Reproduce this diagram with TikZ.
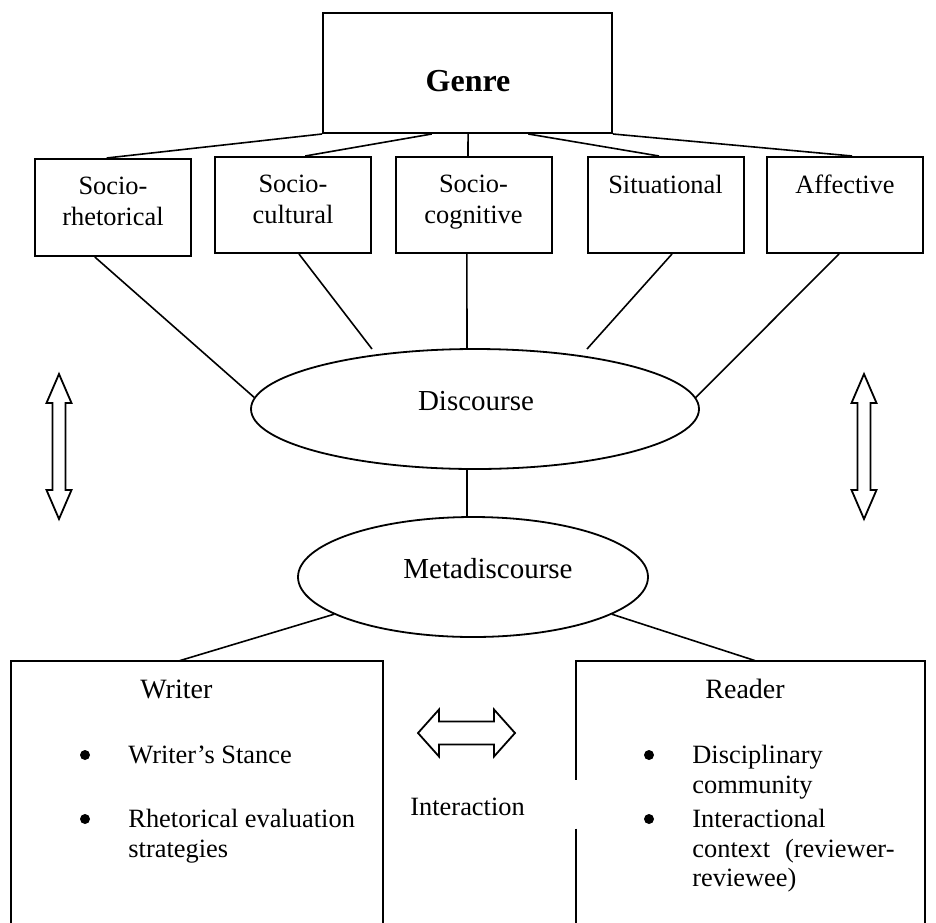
\documentclass[tikz,border=0pt]{standalone}
\usepackage{fontspec}
\setmainfont{Liberation Serif}
\usetikzlibrary{calc,shapes.geometric}
\begin{document}
\begin{tikzpicture}[x=0.5pt,y=-0.5pt,
  box/.style={draw, rectangle, line width=1pt, inner sep=0pt, minimum width=78pt, minimum height=48pt},
  lbl/.style={inner sep=0pt, font=\fontsize{13.2}{15.5}\selectfont, align=center},
  item/.style={inner sep=0pt, font=\fontsize{13.2}{15.5}\selectfont, anchor=base west},
  dot/.style={circle, fill=black, inner sep=0pt, minimum size=5pt},
  head/.style={inner sep=0pt, font=\fontsize{14}{16}\selectfont, anchor=base west},
  oval/.style={draw, ellipse, line width=0.9pt, inner sep=0pt},
  ovaltext/.style={inner sep=0pt, font=\fontsize{14.5}{17}\selectfont, anchor=base},
  conn/.style={line width=0.8pt},
  frame/.style={line width=1pt},
  fatarrow/.style={draw, line width=0.9pt, fill=white},
  vdarrow/.pic={\draw[fatarrow] (0,-72.5) -- (12.5,-43.5) -- (6.5,-43.5) -- (6.5,43.5) -- (12.5,43.5)
      -- (0,72.5) -- (-12.5,43.5) -- (-6.5,43.5) -- (-6.5,-43.5) -- (-12.5,-43.5) -- cycle;},
  hdarrow/.pic={\draw[fatarrow] (-48.5,0) -- (-27.5,-23.5) -- (-27.5,-11.5) -- (27.5,-11.5) -- (27.5,-23.5)
      -- (48.5,0) -- (27.5,23.5) -- (27.5,11.5) -- (-27.5,11.5) -- (-27.5,23.5) -- cycle;}]
\useasboundingbox (0,0) rectangle (936,922);

% top box
\node[draw, rectangle, line width=1pt, inner sep=0pt, minimum width=144.5pt, minimum height=60pt] (genre) at (467.5,73) {};
\node[inner sep=0pt, anchor=base, font=\fontsize{16}{19}\selectfont\bfseries] (genretext) at (468,91) {Genre};

% the five dimensions
\node[box, minimum height=48.5pt] (b1) at (113,207.5) {};
\node[box] (b2) at (293,205) {};
\node[box] (b3) at (473.5,205) {};
\node[box] (b4) at (665.5,205) {};
\node[box] (b5) at (845,205) {};
\node[lbl, anchor=north] (t1) at (113,177) {Socio-\\rhetorical};
\node[lbl, anchor=north] (t2) at (293,175) {Socio-\\cultural};
\node[lbl, anchor=north] (t3) at (473.5,175) {Socio-\\cognitive};
\node[lbl, anchor=north] (t4) at (665.5,175) {Situational};
\node[lbl, anchor=north] (t5) at (845,175) {Affective};

% ellipses
\node[oval, minimum width=224pt, minimum height=60pt] (disc) at (475,409) {};
\node[ovaltext] (disctext) at (476,410) {Discourse};
\node[oval, minimum width=175pt, minimum height=60pt] (meta) at (473,577) {};
\node[ovaltext] (metatext) at (488,578) {Metadiscourse};
\coordinate (d2) at ($(disc.center)+(-103,-60)$);
\coordinate (d4) at ($(disc.center)+(112,-60)$);

% genre to dimensions
\draw[conn] (genre.south west) -- ($(b1.north west)!0.46!(b1.north east)$);
\draw[conn] ($(genre.south west)!0.377!(genre.south east)$) -- ($(b2.north west)!0.577!(b2.north east)$);
\draw[conn] ($(genre.south west)!0.502!(genre.south east)$) -- ($(b3.north west)!0.465!(b3.north east)$);
\draw[conn] ($(genre.south west)!0.709!(genre.south east)$) -- ($(b4.north west)!0.459!(b4.north east)$);
\draw[conn] (genre.south east) -- ($(b5.north west)!0.545!(b5.north east)$);

% dimensions to discourse
\draw[conn] ($(b1.south west)!0.385!(b1.south east)$) -- (disc.177);
\draw[conn] ($(b2.south west)!0.538!(b2.south east)$) -- (d2);
\draw[conn] ($(b3.south west)!0.458!(b3.south east)$) -- ($(disc.north)+(-8,0)$);
\draw[conn] ($(b4.south west)!0.541!(b4.south east)$) -- (d4);
\draw[conn] ($(b5.south west)!0.462!(b5.south east)$) -- (disc.3);

% discourse to metadiscourse
\draw[conn] ($(disc.south)+(-8,0)$) -- ($(meta.north)+(-6,0)$);

% writer and reader frames (open at the bottom)
\node[inner sep=0pt, minimum width=186pt, minimum height=131.5pt] (writer) at (197,792.5) {};
\node[inner sep=0pt, minimum width=174.5pt, minimum height=131.5pt] (reader) at (750.5,792.5) {};
\draw[frame] (writer.south west) |- (writer.north east) -- (writer.south east);
\draw[frame] ($(reader.north west)+(0,119)$) |- (reader.north east) -- (reader.south east);
\draw[frame] ($(reader.north west)+(0,168)$) -- (reader.south west);

\draw[conn] (meta.195) -- ($(writer.north west)!0.454!(writer.north east)$);
\draw[conn] (meta.345) -- ($(reader.north west)!0.513!(reader.north east)$);

% writer contents
\node[head] (wh) at (140,698) {Writer};
\node[dot] (wd1) at (85,755) {};
\node[item] (w1) at (128,763) {Writer’s Stance};
\node[dot] (wd2) at (85,819) {};
\node[item] (w2) at (128,827) {Rhetorical evaluation};
\node[item] (w3) at (128,857) {strategies};

% reader contents
\node[head] (rh) at (705,698) {Reader};
\node[dot] (rd1) at (649,755) {};
\node[item] (r1) at (692,763) {Disciplinary};
\node[item] (r2) at (692,793) {community};
\node[dot] (rd2) at (649,819) {};
\node[item] (r3) at (692,827) {Interactional};
\node[item] (r4) at (692,857) {context\hspace{7.5pt}(reviewer-};
\node[item] (r5) at (692,886) {reviewee)};

% interaction
\pic at (466.5,733) {hdarrow};
\node[item] (inter) at (410,815) {Interaction};

% side arrows
\pic at (59,446.5) {vdarrow};
\pic at (864,446.5) {vdarrow};
\end{tikzpicture}
\end{document}
